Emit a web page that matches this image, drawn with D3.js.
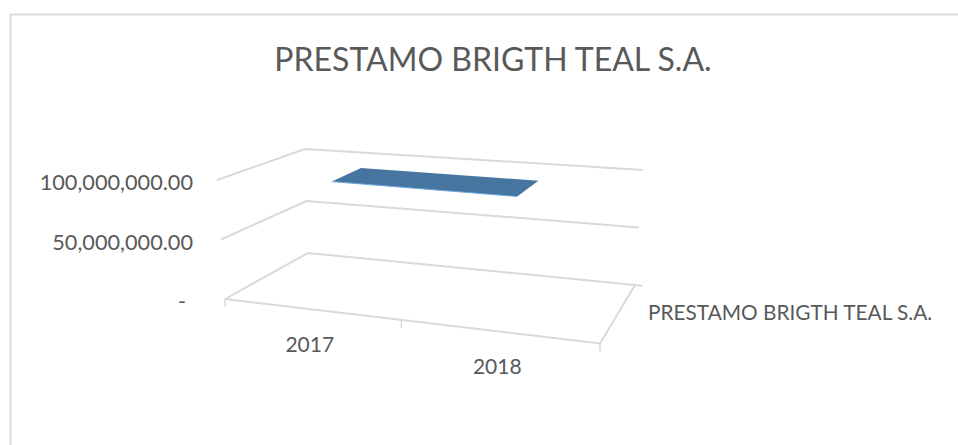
<!DOCTYPE html>
<html>
<head>
<meta charset="utf-8">
<script src="https://cdn.jsdelivr.net/npm/d3@7/dist/d3.min.js"></script>
<style>
html,body{margin:0;padding:0;background:#fff}
svg{display:block}
text{font-family:Lato,"Open Sans",sans-serif;fill:#595959}
</style>
</head>
<body>
<svg id="chart" width="958" height="445"></svg>
<script>
const chartTitle = "PRESTAMO BRIGTH TEAL S.A.";
const seriesName = "PRESTAMO BRIGTH TEAL S.A.";
const categories = ["2017", "2018"];
const seriesValues = [100000000, 100000000];
const valueTicks = [0, 50000000, 100000000];

const svg = d3.select("#chart");
const gridColor = "#d9d9d9";

// Projection of the 3D plot box: floor corners and the screen offset of the top level
const floor = {fl:[225,299], fr:[600,343.5], bl:[308,253], br:[635,285]};
const rise  = {fl:[-8,-119], fr:[15,-130], bl:[-3,-104], br:[8,-115]};
const xScale = d3.scaleBand().domain(categories).range([0,1]);
const yScale = d3.scaleLinear().domain([0,100000000]).range([0,1]);
const lerp = (a,b,t)=>[a[0]+(b[0]-a[0])*t, a[1]+(b[1]-a[1])*t];
const bilinear = (c,u,d)=>lerp(lerp(c.fl,c.fr,u), lerp(c.bl,c.br,u), d);
function project(u,d,v){
  const p = bilinear(floor,u,d), r = bilinear(rise,u,d), t = yScale(v);
  return [p[0]+r[0]*t, p[1]+r[1]*t];
}
const line = d3.line();

// Chart frame
svg.append("path").attr("d","M10.5,445V14.5H958").attr("fill","none")
  .attr("stroke",gridColor).attr("stroke-width",2);

// Title
svg.append("text").attr("x",493).attr("y",70.5).attr("text-anchor","middle")
  .attr("font-size",32).text(chartTitle);

// Gridlines on walls
const gridG = svg.append("g").attr("fill","none").attr("stroke",gridColor).attr("stroke-width",2);
valueTicks.forEach(v=>{
  gridG.append("path").attr("d", line([project(0,0,v),project(0,1,v),project(1,1,v)]));
});
// Floor front and right edges, ticks
gridG.append("path").attr("d", line([project(0,0,0),project(1,0,0),project(1,1,0),project(1.022,1,0)]));
[0,0.47,1].forEach(u=>{
  const p = project(u,0,0);
  gridG.append("path").attr("stroke-width",1.4).attr("d", line([p,[p[0],p[1]+8]]));
});

// Series surface
const depthStart = 0.2, depthEnd = 0.6;
const cx = c => xScale(c)+xScale.bandwidth()/2;
const [c0,c1] = categories;
const [v0,v1] = seriesValues;
const surface = [
  project(cx(c0)+0.002,depthStart,v0), project(cx(c0)+0.002,depthEnd,v0),
  project(cx(c1)-0.008,depthEnd,v1),  project(cx(c1)-0.018,depthStart,v1)
];
svg.append("path").attr("d", line(surface)+"Z").attr("fill","#46769f");
svg.append("path").attr("d", line([surface[0],surface[3]])).attr("fill","none")
  .attr("stroke","#6ea6dc").attr("stroke-width",1);

// Value axis labels
const fmt = d3.format(",.2f");
valueTicks.forEach(v=>{
  const p = project(0,0,v);
  svg.append("text").attr("x", v===0 ? 186 : 193).attr("y", p[1]+10)
    .attr("text-anchor","end").attr("font-size",21.7)
    .text(v===0 ? "-" : fmt(v));
});

// Category labels
categories.forEach(c=>{
  const p = project(cx(c),0,0);
  svg.append("text").attr("x",p[0]-9).attr("y",p[1]+42)
    .attr("text-anchor","middle").attr("font-size",21).text(c);
});

// Series label on depth axis
svg.append("text").attr("x",648).attr("y",320).attr("font-size",20.8).text(seriesName);
</script>
</body>
</html>
